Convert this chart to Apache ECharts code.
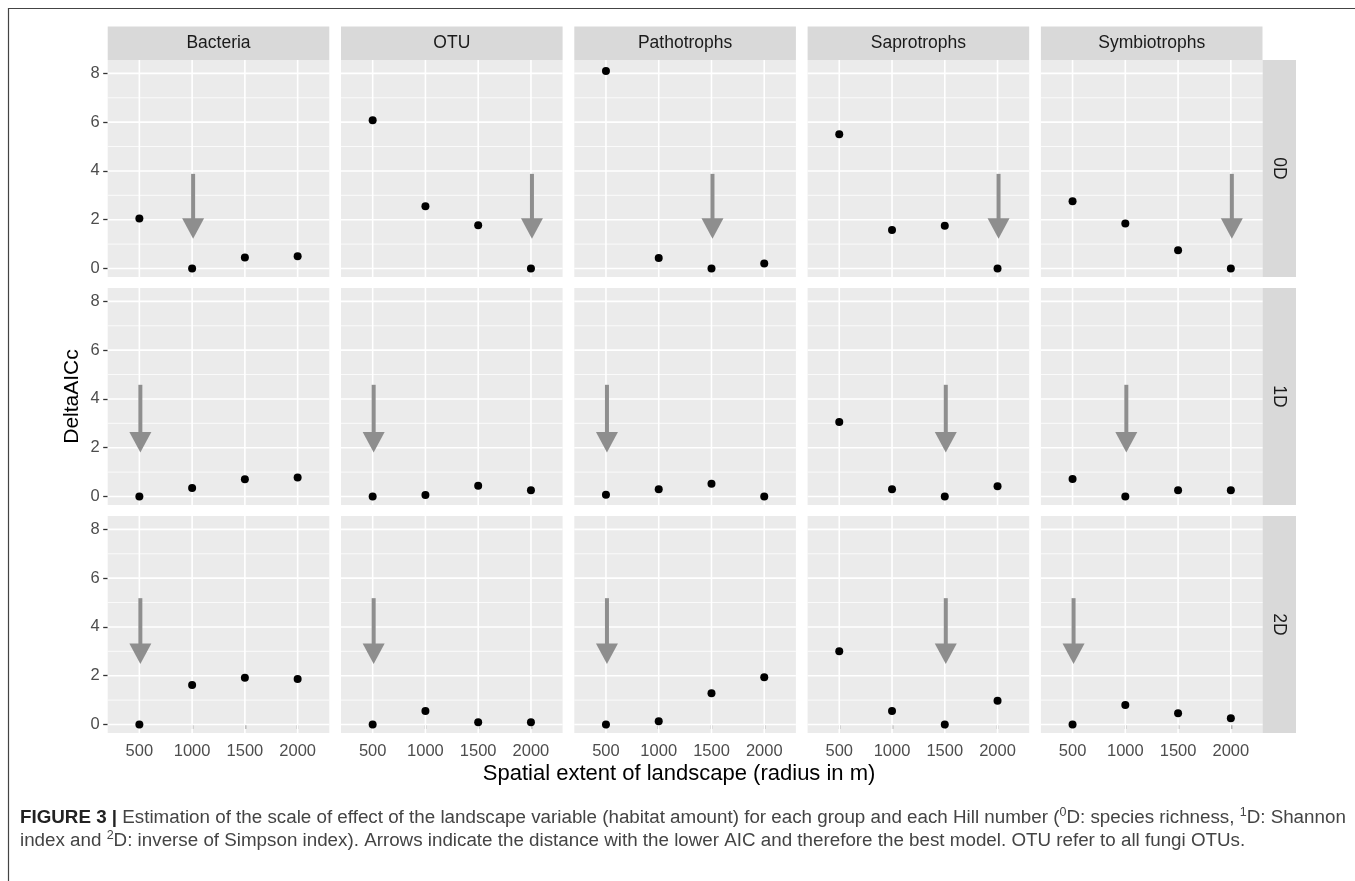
<!DOCTYPE html>
<html><head><meta charset="utf-8">
<script src="https://cdn.jsdelivr.net/npm/echarts@6/dist/echarts.min.js"></script>
<style>html,body{margin:0;padding:0;background:#fff}#c{width:1355px;height:881px}</style>
</head><body><div id="c"></div>
<script>
// ---- data ----
const groups = ['Bacteria', 'OTU', 'Pathotrophs', 'Saprotrophs', 'Symbiotrophs'];
const hills = ['0D', '1D', '2D'];
const distances = [500, 1000, 1500, 2000];
const yTicks = [0, 2, 4, 6, 8];
const yMinorTicks = [1, 3, 5, 7];
// DeltaAICc, one small array per group (order of groups), per Hill number
const values0D = [
  [2.05, 0, 0.45, 0.5],
  [6.08, 2.55, 1.77, 0],
  [8.1, 0.43, 0, 0.2],
  [5.5, 1.58, 1.75, 0],
  [2.76, 1.84, 0.75, 0]
];
const values1D = [
  [0, 0.35, 0.71, 0.78],
  [0, 0.06, 0.44, 0.26],
  [0.07, 0.3, 0.52, 0],
  [3.05, 0.3, 0, 0.42],
  [0.72, 0, 0.26, 0.26]
];
const values2D = [
  [0, 1.62, 1.92, 1.86],
  [0, 0.55, 0.09, 0.09],
  [0, 0.13, 1.28, 1.94],
  [3.0, 0.55, 0, 0.97],
  [0, 0.8, 0.46, 0.26]
];
// distance with lowest AIC (arrow position), per group
const best0D = [1000, 2000, 1500, 2000, 2000];
const best1D = [500, 500, 500, 1500, 1000];
const best2D = [500, 500, 500, 1500, 500];
// arrow start / tip (DeltaAICc units) per Hill row
const arrowTop = [3.88, 4.58, 5.18];
const arrowTip = [1.22, 1.8, 2.48];

const valuesByRow = [values0D, values1D, values2D];
const bestByRow = [best0D, best1D, best2D];

// ---- layout ----
const LEFT = 107.7, PW = 221.6, HSTEP = 233.3;
const TOP = 60, PH = 217, VSTEP = 228;
const STRIP = 33.5;
const XMIN = 200, XMAX = 2300, YMIN = -0.35, YMAX = 8.55;
const FONT = 'Liberation Sans, Arial, sans-serif';

const grids = [], xAxes = [], yAxes = [], series = [], graphics = [];
let gi = 0;
for (let r = 0; r < hills.length; r++) {
  for (let c = 0; c < groups.length; c++) {
    const left = LEFT + c * HSTEP, top = TOP + r * VSTEP;
    grids.push({left: left, top: top, width: PW, height: PH, show: true,
      backgroundColor: '#ebebeb', borderWidth: 0, containLabel: false});
    const bottomRow = r === hills.length - 1, leftCol = c === 0;
    xAxes.push({type: 'value', gridIndex: gi, min: XMIN, max: XMAX,
      axisLine: {show: false}, splitLine: {show: false},
      axisTick: {show: bottomRow, customValues: distances, length: 4.5, lineStyle: {color: '#333', width: 1.3}},
      axisLabel: {show: bottomRow, customValues: distances, formatter: v => String(v),
        color: '#4d4d4d', fontSize: 16.5, fontFamily: FONT, margin: 10}
    });
    yAxes.push({type: 'value', gridIndex: gi, min: YMIN, max: YMAX,
      axisLine: {show: false}, splitLine: {show: false},
      axisTick: {show: leftCol, customValues: yTicks, length: 4.5, lineStyle: {color: '#333', width: 1.3}},
      axisLabel: {show: leftCol, customValues: yTicks, formatter: v => String(v),
        color: '#4d4d4d', fontSize: 16.5, fontFamily: FONT, margin: 8}
    });
    // gridlines
    const gl = [];
    yMinorTicks.forEach(v => gl.push([0, v, 0.8]));
    yTicks.forEach(v => gl.push([0, v, 1.6]));
    distances.forEach(v => gl.push([1, v, 1.6]));
    series.push({type: 'custom', xAxisIndex: gi, yAxisIndex: gi, silent: true, z: 1,
      data: gl,
      encode: {x: [], y: []},
      renderItem: function (params, api) {
        const o = api.value(0), v = api.value(1), w = api.value(2);
        let p1, p2;
        if (o === 0) { p1 = api.coord([XMIN, v]); p2 = api.coord([XMAX, v]); }
        else { p1 = api.coord([v, YMIN]); p2 = api.coord([v, YMAX]); }
        return {type: 'line', shape: {x1: p1[0], y1: p1[1], x2: p2[0], y2: p2[1]},
          style: {stroke: '#ffffff', lineWidth: w}};
      }
    });
    // arrow
    series.push({type: 'custom', xAxisIndex: gi, yAxisIndex: gi, silent: true, z: 3,
      data: [[bestByRow[r][c], arrowTop[r], arrowTip[r]]],
      encode: {x: 0, y: [1, 2]},
      renderItem: function (params, api) {
        const x = api.value(0);
        const pt = api.coord([x, api.value(1)]);
        const tip = api.coord([x, api.value(2)]);
        const hl = 20.5, hw = 11;
        const cx = tip[0] + 1;
        return {type: 'group', children: [
          {type: 'line', shape: {x1: cx, y1: pt[1], x2: cx, y2: tip[1] - hl + 1},
            style: {stroke: '#8e8e8e', lineWidth: 4}},
          {type: 'polygon', shape: {points: [[cx - hw, tip[1] - hl], [cx + hw, tip[1] - hl], [cx, tip[1]]]},
            style: {fill: '#8e8e8e'}}
        ]};
      }
    });
    // points
    series.push({type: 'scatter', xAxisIndex: gi, yAxisIndex: gi, z: 4, silent: true,
      symbolSize: 8, itemStyle: {color: '#000', opacity: 1},
      data: distances.map((d, k) => [d, valuesByRow[r][c][k]])
    });
    gi++;
  }
}

// top strips
groups.forEach((g, c) => {
  const left = LEFT + c * HSTEP;
  graphics.push({type: 'rect', shape: {x: left, y: TOP - STRIP, width: PW, height: STRIP},
    style: {fill: '#d9d9d9'}, silent: true});
  graphics.push({type: 'text', x: left + PW / 2, y: TOP - STRIP / 2,
    style: {text: g, fill: '#1a1a1a', fontSize: 17.5, fontFamily: FONT, align: 'center', verticalAlign: 'middle'}, silent: true});
});
// right strips
hills.forEach((h, r) => {
  const x0 = LEFT + (groups.length - 1) * HSTEP + PW, top = TOP + r * VSTEP;
  graphics.push({type: 'rect', shape: {x: x0, y: top, width: STRIP, height: PH},
    style: {fill: '#d9d9d9'}, silent: true});
  graphics.push({type: 'text', x: x0 + STRIP / 2, y: top + PH / 2, rotation: -Math.PI / 2,
    style: {text: h, fill: '#1a1a1a', fontSize: 17.5, fontFamily: FONT, align: 'center', verticalAlign: 'middle'}, silent: true});
});
// axis titles
const panelsRight = LEFT + (groups.length - 1) * HSTEP + PW;
graphics.push({type: 'text', x: (LEFT + panelsRight) / 2 - 6, y: 774,
  style: {text: 'Spatial extent of landscape (radius in m)', fill: '#000', fontSize: 22, fontFamily: FONT, align: 'center', verticalAlign: 'middle'}, silent: true});
graphics.push({type: 'text', x: 72, y: TOP + (2 * VSTEP + PH) / 2, rotation: Math.PI / 2,
  style: {text: 'DeltaAICc', fill: '#000', fontSize: 21, fontFamily: FONT, align: 'center', verticalAlign: 'middle'}, silent: true});
// border
graphics.push({type: 'polyline', shape: {points: [[8.5, 881], [8.5, 8.5], [1355, 8.5]]},
  style: {stroke: '#444', lineWidth: 1.2, fill: null}, silent: true});
// caption
const CAP = 18.8;
const capRich = {
  b: {fontWeight: 'bold', fontSize: CAP, fontFamily: FONT, fill: '#222', lineHeight: 24},
  n: {fontSize: CAP, fontFamily: FONT, fill: '#444', lineHeight: 24},
  s: {fontSize: 12.5, fontFamily: FONT, fill: '#444', lineHeight: 12, verticalAlign: 'top'}
};
graphics.push({type: 'text', x: 20, y: 818,
  style: {text: '{b|FIGURE 3 |}{n| Estimation of the scale of effect of the landscape variable (habitat amount) for each group and each Hill number (}{s|0}{n|D: species richness, }{s|1}{n|D: Shannon}',
    rich: capRich, verticalAlign: 'middle'}, silent: true});
graphics.push({type: 'text', x: 20, y: 841,
  style: {text: '{n|index and }{s|2}{n|D: inverse of Simpson index). Arrows indicate the distance with the lower AIC and therefore the best model. OTU refer to all fungi OTUs.}',
    rich: capRich, verticalAlign: 'middle'}, silent: true});

const chart = echarts.init(document.getElementById('c'), null, {renderer: 'canvas'});
chart.setOption({
  animation: false,
  backgroundColor: '#fff',
  grid: grids, xAxis: xAxes, yAxis: yAxes, series: series, graphic: graphics
});
</script></body></html>
